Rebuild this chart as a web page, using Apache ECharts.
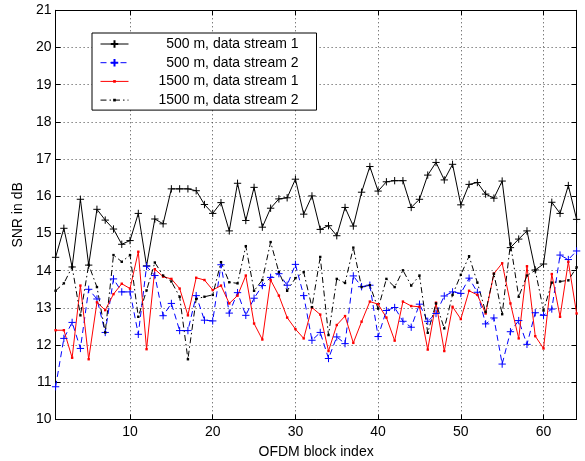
<!DOCTYPE html>
<html>
<head>
<meta charset="utf-8">
<script src="https://cdn.jsdelivr.net/npm/echarts@6/dist/echarts.min.js"></script>
<style>
html,body{margin:0;padding:0;background:#fff;}
#c{width:585px;height:461px;}
</style>
</head>
<body>
<div id="c"></div>
<script>
var blockIndex = [];
for (var k = 1; k <= 64; k++) blockIndex.push(k);

var names = ['500 m, data stream 1', '500 m, data stream 2', '1500 m, data stream 1', '1500 m, data stream 2'];

var s500_1 = [14.36, 15.14, 14.1, 15.92, 14.15, 15.65, 15.36, 15.12, 14.71, 14.81,
  15.54, 14.13, 15.39, 15.26, 16.2, 16.2, 16.2, 16.15, 15.78, 15.54,
  15.83, 15.07, 16.35, 15.35, 16.24, 15.17, 15.68, 15.93, 15.96, 16.46,
  15.52, 16.01, 15.11, 15.21, 14.94, 15.7, 15.2, 16.11, 16.8, 16.14,
  16.39, 16.42, 16.42, 15.7, 15.92, 16.57, 16.91, 16.44, 16.86, 15.77,
  16.32, 16.37, 16.06, 15.95, 16.41, 14.62, 14.85, 15.07, 14.02, 14.18,
  15.84, 15.54, 16.29, 15.38];

var s500_2 = [10.88, 12.18, 12.61, 11.91, 13.5, 13.24, 12.34, 13.78, 13.43, 13.43,
  12.29, 14.12, 13.87, 12.79, 13.12, 12.39, 12.39, 13.33, 12.67, 12.65,
  14.16, 12.86, 13.41, 12.8, 13.26, 13.6, 13.82, 13.92, 13.61, 14.17,
  13.33, 12.13, 12.34, 11.64, 12.22, 12.04, 13.86, 13.57, 13.61, 12.23,
  12.93, 13.01, 12.64, 12.48, 13.1, 12.64, 12.85, 13.32, 13.43, 13.39,
  13.8, 13.42, 12.57, 12.73, 11.49, 12.36, 12.66, 12.02, 12.87, 12.8,
  12.97, 14.42, 14.3, 14.53];

var s1500_1 = [12.4, 12.4, 11.66, 13.6, 11.62, 13.15, 12.94, 13.37, 13.65, 13.52,
  14.51, 11.89, 14.04, 13.84, 13.78, 13.52, 12.8, 13.81, 13.75, 13.48,
  13.6, 13.12, 13.33, 13.87, 12.58, 12.15, 13.75, 13.33, 12.74, 12.43,
  12.18, 13.01, 12.82, 11.84, 12.54, 12.78, 12.06, 12.63, 13.17, 13.1,
  12.74, 12.12, 13.17, 13.05, 13.03, 11.88, 13.14, 11.84, 13.03, 12.7,
  13.46, 13.35, 12.85, 13.92, 14.2, 13.12, 12.18, 14.12, 12.24, 11.91,
  13.91, 12.76, 14.24, 12.85];

var s1500_2 = [13.46, 13.66, 14.1, 12.8, 14.16, 13.56, 12.34, 14.42, 14.24, 14.42,
  12.76, 13.47, 14.22, 13.87, 13.71, 13.3, 11.62, 13.24, 13.3, 13.35,
  14.23, 13.69, 13.66, 14.66, 13.46, 13.75, 14.77, 13.96, 13.46, 13.8,
  13.96, 13.02, 14.37, 12.27, 13.78, 13.67, 14.62, 13.56, 13.61, 12.98,
  13.78, 13.56, 14.01, 13.6, 13.87, 12.33, 13.12, 12.45, 13.35, 13.89,
  14.39, 13.68, 12.89, 13.92, 12.83, 14.73, 13.3, 13.87, 14.01, 12.93,
  13.68, 13.71, 13.74, 14.09];

var yTicks = [10, 11, 12, 13, 14, 15, 16, 17, 18, 19, 20, 21];

function pairs(arr) {
  return arr.map(function (v, i) { return [blockIndex[i], v]; });
}

var FONT = 'Liberation Sans, Arial, Helvetica, sans-serif';
// '+' marker padded inside a 12x12 box so legend and plot sizes match
var plus = 'path://M0,0M12,12M2,6L10,6M6,2L6,10';
// small '.' marker padded inside a 10x10 box
var dot = 'path://M0,0M10,10M3.8,3.8L6.2,3.8L6.2,6.2L3.8,6.2Z';

var chart = echarts.init(document.getElementById('c'), null, {renderer: 'canvas'});

var commonAxisLine = {show: true, lineStyle: {color: '#000', width: 1}};
var split = {show: true, lineStyle: {color: '#444', width: 1, type: [1, 3]}};

chart.setOption({
  animation: false,
  backgroundColor: '#fff',
  grid: {left: 55.6, right: 8.4, top: 10.3, bottom: 41.5, containLabel: false, outerBoundsMode: 'none'},
  legend: {
    orient: 'vertical',
    left: 92,
    top: 33,
    data: names,
    backgroundColor: '#fff',
    borderColor: '#000',
    borderWidth: 1,
    borderRadius: 0,
    padding: [4, 18, 3, 8],
    itemWidth: 28,
    itemHeight: 14,
    itemGap: 4.7,
    lineStyle: {width: 1},
    formatter: function (n) { return '{a|' + n + '}'; },
    textStyle: {
      fontFamily: FONT, fontSize: 14, color: '#000',
      rich: {a: {width: 165, align: 'right', fontFamily: FONT, fontSize: 14, color: '#000'}}
    }
  },
  xAxis: [{
    type: 'value', min: 1, max: 64, splitNumber: 6,
    name: 'OFDM block index', nameLocation: 'middle', nameGap: 26,
    nameTextStyle: {fontFamily: FONT, fontSize: 14, color: '#000'},
    axisLine: commonAxisLine,
    axisTick: {show: true, inside: true, length: 5, lineStyle: {color: '#000'}},
    axisLabel: {fontFamily: FONT, fontSize: 14, color: '#000', margin: 6, showMinLabel: false, showMaxLabel: false},
    splitLine: split
  }, {
    type: 'value', min: 1, max: 64, splitNumber: 6, position: 'top',
    axisLine: commonAxisLine,
    axisTick: {show: true, inside: true, length: 5, lineStyle: {color: '#000'}},
    axisLabel: {show: false}, splitLine: {show: false}
  }],
  yAxis: [{
    type: 'value', min: 10, max: 21, interval: 1,
    name: 'SNR in dB', nameLocation: 'middle', nameGap: 25,
    nameTextStyle: {fontFamily: FONT, fontSize: 14, color: '#000'},
    axisLine: commonAxisLine,
    axisTick: {show: true, inside: true, length: 5, lineStyle: {color: '#000'}},
    axisLabel: {fontFamily: FONT, fontSize: 14, color: '#000', margin: 4,
      formatter: function (v) { return yTicks.indexOf(v) >= 0 ? String(v) : ''; }},
    splitLine: split
  }, {
    type: 'value', min: 10, max: 21, interval: 1, position: 'right',
    axisLine: commonAxisLine,
    axisTick: {show: true, inside: true, length: 5, lineStyle: {color: '#000'}},
    axisLabel: {show: false}, splitLine: {show: false}
  }],
  series: [{
    name: names[0], type: 'line', data: pairs(s500_1),
    symbol: plus, symbolSize: 11, showAllSymbol: true,
    lineStyle: {color: '#000', width: 1},
    itemStyle: {color: '#000', borderColor: '#000', borderWidth: 1}
  }, {
    name: names[1], type: 'line', data: pairs(s500_2),
    symbol: plus, symbolSize: 11, showAllSymbol: true,
    lineStyle: {color: '#0000ff', width: 1, type: [6, 4]},
    itemStyle: {color: '#0000ff', borderColor: '#0000ff', borderWidth: 1}
  }, {
    name: names[2], type: 'line', data: pairs(s1500_1),
    symbol: dot, symbolSize: 10, showAllSymbol: true,
    lineStyle: {color: '#ff0000', width: 1},
    itemStyle: {color: '#ff0000', borderWidth: 0}
  }, {
    name: names[3], type: 'line', data: pairs(s1500_2),
    symbol: dot, symbolSize: 10, showAllSymbol: true,
    lineStyle: {color: '#000', width: 1, type: [6, 3, 1.5, 3]},
    itemStyle: {color: '#000', borderWidth: 0}
  }]
});
</script>
</body>
</html>
